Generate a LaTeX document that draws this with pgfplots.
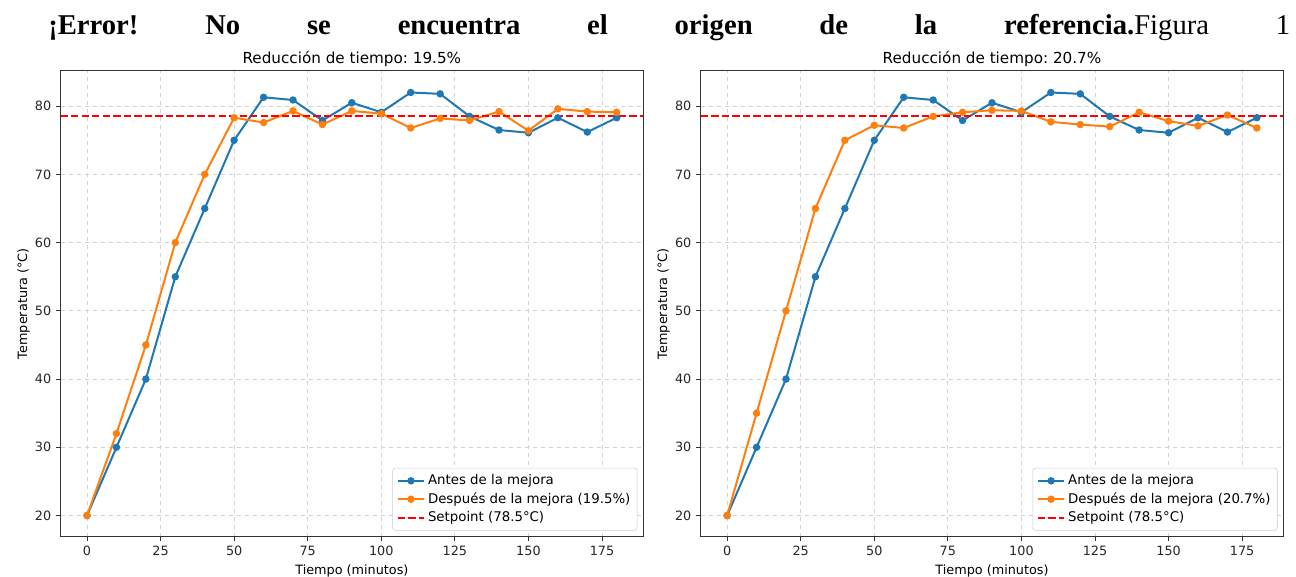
\documentclass[border=0pt]{standalone}
\usepackage{pgfplots}
\pgfplotsset{compat=1.18}
\usepackage{fontspec}
\setmainfont{DejaVu Sans}
\newfontfamily\timesfont{Liberation Serif}
\definecolor{tabblue}{HTML}{1F77B4}
\definecolor{taborange}{HTML}{FF7F0E}
\frenchspacing
\pgfplotsset{
 myax/.style={
  width=437pt, height=349.5pt, scale only axis,
  xmin=-9, xmax=189, ymin=16.9, ymax=85.2,
  xtick={0,25,...,175}, ytick={20,30,...,80},
  grid=major, grid style={dashed, gray!35, line width=0.6pt},
  tick align=outside, tick pos=left, major tick length=3.5pt,
  axis line style={black!80, line width=0.8pt},
  every tick/.style={black!80, line width=0.6pt},
  tick label style={font=\fontsize{9.6}{11}\selectfont, text=black!85},
  /pgf/number format/assume math mode=true,
  xlabel={Tiempo (minutos)}, ylabel={Temperatura (°C)},
  ylabel shift=-3pt,
  label style={font=\fontsize{9.6}{11}\selectfont},
  title style={font=\fontsize{11.4}{13}\selectfont, at={(0.5,1)}, anchor=base, yshift=-0.75pt},
  legend style={at={(0.99,0.013)}, anchor=south east, draw=gray!40, rounded corners=2pt,
    font=\fontsize{10}{12}\selectfont, row sep=0.5pt, inner sep=3pt},
  legend cell align=left,
  legend image code/.code={\draw[mark repeat=2, mark phase=2, #1] plot coordinates {(0pt,0pt) (10pt,0pt) (20pt,0pt)};},
 },
 blueline/.style={tabblue, line width=1.5pt, mark=*, mark size=2pt, mark options={solid}},
 orangeline/.style={taborange, line width=1.5pt, mark=*, mark size=2pt, mark options={solid}},
 setline/.style={red, line width=1.5pt, dash pattern=on 5.5pt off 2.4pt},
}
\begin{document}
\begin{tikzpicture}
\path[use as bounding box] (0,0) rectangle (972pt,432pt);
\node[anchor=base west, inner sep=0pt] at (36pt,405.75pt)
  {\timesfont\fontsize{21.5}{24}\selectfont\makebox[931.5pt][s]{\textbf{¡Error! No se encuentra el origen de la referencia.}Figura 1}};

\begin{axis}[myax, at={(45.4pt,29.5pt)}, anchor=south west,
  title={Reducción de tiempo: 19.5\%}]
\addplot[blueline] coordinates {
(0,20) (10,30) (20,40) (30,55) (40,65) (50,75) (60,81.3) (70,80.9) (80,77.9) (90,80.5)
(100,79.1) (110,82.0) (120,81.8) (130,78.5) (140,76.5) (150,76.1) (160,78.3) (170,76.2) (180,78.3)};
\addlegendentry{Antes de la mejora}
\addplot[orangeline] coordinates {
(0,20) (10,32) (20,45) (30,60) (40,70) (50,78.3) (60,77.6) (70,79.3) (80,77.3) (90,79.3)
(100,78.9) (110,76.8) (120,78.2) (130,77.9) (140,79.2) (150,76.4) (160,79.6) (170,79.2) (180,79.1)};
\addlegendentry{Después de la mejora (19.5\%)}
\addplot[setline] coordinates {(-9,78.5) (189,78.5)};
\addlegendentry{Setpoint (78.5°C)}
\end{axis}

\begin{axis}[myax, at={(525.5pt,29.5pt)}, anchor=south west,
  title={Reducción de tiempo: 20.7\%}]
\addplot[blueline] coordinates {
(0,20) (10,30) (20,40) (30,55) (40,65) (50,75) (60,81.3) (70,80.9) (80,77.9) (90,80.5)
(100,79.1) (110,82.0) (120,81.8) (130,78.5) (140,76.5) (150,76.1) (160,78.3) (170,76.2) (180,78.3)};
\addlegendentry{Antes de la mejora}
\addplot[orangeline] coordinates {
(0,20) (10,35) (20,50) (30,65) (40,75) (50,77.2) (60,76.8) (70,78.5) (80,79.1) (90,79.4)
(100,79.3) (110,77.7) (120,77.3) (130,77.0) (140,79.1) (150,77.8) (160,77.1) (170,78.7) (180,76.8)};
\addlegendentry{Después de la mejora (20.7\%)}
\addplot[setline] coordinates {(-9,78.5) (189,78.5)};
\addlegendentry{Setpoint (78.5°C)}
\end{axis}
\end{tikzpicture}
\end{document}
